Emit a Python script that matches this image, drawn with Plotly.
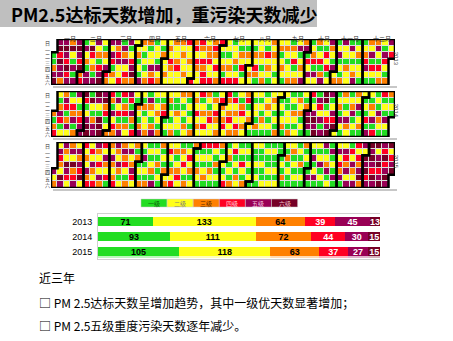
import datetime as dt
import plotly.graph_objects as go

W, H = 453, 341

years = [2013, 2014, 2015]
level_names = ["一级", "二级", "三级", "四级", "五级", "六级"]
level_colors = ["#22DD22", "#FFFF1A", "#FF8000", "#FF0022", "#990055", "#760026"]
legend_text_colors = ["#0b5e0b", "#808080", "#5a2a00", "#ffd0d8", "#f3c6e0", "#f0c0c8"]
bar_text_colors = ["#000000", "#000000", "#000000", "#ffffff", "#ffffff", "#ffffff"]
month_names = ["一月", "二月", "三月", "四月", "五月", "六月",
               "七月", "八月", "九月", "十月", "十一月", "十二月"]
weekday_names = ["日", "一", "二", "三", "四", "五", "六"]

# daily air quality level (1..6), one string per month
daily_2013 = [
    "1135656465" "5356546453" "6215155654" "6",
    "3415231552" "6423155231" "45621325",
    "4352541325" "3452241535" "2435124563" "2",
    "2312153212" "1233122534" "1221523213",
    "2232232432" "2322342232" "3223242232" "2",
    "4342432243" "2434423342" "2434324234",
    "2123142212" "3241223124" "2132412213" "2",
    "2322132431" "2232123214" "2321323221" "2",
    "2312321232" "1223132412" "3251232535",
    "1425212341" "5231241352" "1424125321" "5",
    "2312512135" "2213221521" "2351231221",
    "1234521325" "1421352142" "3215421352" "4",
]
daily_2014 = [
    "3134213541" "2354135212" "4351352134" "5",
    "5641256616" "2135565216" "66563412",
    "3431524315" "2413541341" "3254153142" "1",
    "3213521312" "2315321352" "1232132134",
    "1212312123" "2113221321" "2132312121" "3",
    "2324232412" "3242321342" "2132432324",
    "3234243234" "2314232432" "1342323412" "3",
    "2121221312" "1213211232" "1212321213" "2",
    "1212312112" "2131213212" "1323121213",
    "5651412565" "6154251566" "1245651254" "6",
    "2123152132" "1253212351" "2132512312",
    "1214152132" "5141215321" "4121521312" "1",
]
daily_2015 = [
    "5232543265" "5326542352" "6345253546" "2",
    "4232534242" "5324532425" "34253241",
    "3253234532" "5312353421" "3252354231" "3",
    "1213215121" "3121231512" "1312131213",
    "2324213242" "3123421324" "2131242312" "3",
    "1213214121" "2314121321" "4213121312",
    "2124123121" "3241213212" "1421312121" "2",
    "1211212121" "1211212112" "1212112121" "1",
    "1213121312" "1123121211" "2131213121",
    "1512151251" "2125121512" "3512151215" "1",
    "2524351254" "3525142532" "5424356352",
    "6564565654" "6562564565" "4645656245" "6",
]
daily_all = [daily_2013, daily_2014, daily_2015]

counts_2013 = [71, 133, 64, 39, 45, 13]
counts_2014 = [93, 111, 72, 44, 30, 15]
counts_2015 = [105, 118, 63, 37, 27, 15]
counts_all = [counts_2013, counts_2014, counts_2015]


def px(x):
    return x / W


def py(y):
    return 1 - y / H


cal_top = [39, 91, 142]
cal_bot = [85, 137, 188]
cal_left, cal_right = 51, 395

colorscale = []
for i, c in enumerate(level_colors):
    colorscale += [[i / 6, c], [(i + 1) / 6, c]]

fig = go.Figure()
shapes = []
annotations = []
layout_axes = {}

for yi, (year, months) in enumerate(zip(years, daily_all)):
    start = dt.date(year, 1, 1)
    offset = (start.weekday() + 1) % 7
    levels = [int(ch) for ch in "".join(months)]
    ndays = (dt.date(year + 1, 1, 1) - start).days
    assert len(levels) == ndays, (year, len(levels))
    z = [[None] * 53 for _ in range(7)]
    for k, lv in enumerate(levels):
        pos = k + offset
        z[pos % 7][pos // 7] = lv
    sfx = "" if yi == 0 else str(yi + 1)
    xr, yr = "x" + sfx, "y" + sfx
    fig.add_trace(go.Heatmap(
        z=z, x=list(range(53)), y=list(range(7)),
        zmin=0.5, zmax=6.5, colorscale=colorscale, showscale=False,
        xgap=1, ygap=1, hoverinfo="skip", xaxis=xr, yaxis=yr))
    layout_axes["xaxis" + sfx] = dict(domain=[px(cal_left), px(cal_right)], anchor=yr,
                                      range=[-0.5, 52.5], visible=False, fixedrange=True)
    layout_axes["yaxis" + sfx] = dict(domain=[py(cal_bot[yi]), py(cal_top[yi])], anchor=xr,
                                      range=[6.5, -0.5], visible=False, fixedrange=True)
    # month outlines
    k = 0
    for mi in range(12):
        mlen = len(months[mi])
        p1, p2 = k + offset, k + mlen - 1 + offset
        c1, r1, c2, r2 = p1 // 7, p1 % 7, p2 // 7, p2 % 7
        path = (f"M {c1-0.5},{r1-0.5} L {c1+0.5},{r1-0.5} L {c1+0.5},-0.5 "
                f"L {c2+0.5},-0.5 L {c2+0.5},{r2+0.5} L {c2-0.5},{r2+0.5} "
                f"L {c2-0.5},6.5 L {c1-0.5},6.5 Z")
        shapes.append(dict(type="path", path=path, xref=xr, yref=yr,
                           fillcolor="#dcdcdc", line=dict(width=0), layer="below"))
        shapes.append(dict(type="path", path=path, xref=xr, yref=yr,
                           line=dict(color="black", width=2.5), layer="above"))
        if yi == 0:
            annotations.append(dict(x=(c1 + c2) / 2 + 0.5, xref=xr, y=py(33), yref="paper",
                                    text=month_names[mi], showarrow=False, height=7,
                                    font=dict(size=6, color="#333333", family="Noto Sans CJK SC")))
        k += mlen
    # weekday labels (one stacked text, line pitch matches the row pitch)
    row_pitch = (cal_bot[yi] - cal_top[yi]) / 7
    annotations.append(dict(x=px(44), xref="paper", y=3, yref=yr,
                            text="<br>".join(weekday_names), showarrow=False,
                            yanchor="middle", borderpad=0,
                            font=dict(size=row_pitch / 1.3, color="#333333",
                                      family="Noto Sans CJK SC")))
    # year label (vertical)
    annotations.append(dict(x=px(401), xref="paper", y=2.5, yref=yr, text=str(year),
                            textangle=90, showarrow=False,
                            font=dict(size=6, color="#444444", family="Liberation Sans")))
    # shadow line under calendar
    shapes.append(dict(type="line", xref="paper", yref="paper",
                       x0=px(cal_left + 2), x1=px(cal_right + 2),
                       y0=py(cal_bot[yi] + 2), y1=py(cal_bot[yi] + 2),
                       line=dict(color="#b5b5b5", width=1.5)))

# legend boxes
for i, (name, col) in enumerate(zip(level_names, level_colors)):
    x0 = 141 + i * 26.1
    shapes.append(dict(type="rect", xref="paper", yref="paper",
                       x0=px(x0), x1=px(x0 + 26.1), y0=py(207), y1=py(199),
                       fillcolor=col, line=dict(color="#cccccc", width=0.5)))
    annotations.append(dict(x=px(x0 + 13), xref="paper", y=py(203), yref="paper",
                            text=name, showarrow=False,
                            font=dict(size=6, color=legend_text_colors[i],
                                      family="Noto Sans CJK SC")))

# stacked bars
year_labels = [str(y) for y in years]
for li in range(6):
    vals = [counts_all[yi][li] for yi in range(3)]
    fig.add_trace(go.Bar(
        y=year_labels, x=vals, orientation="h", xaxis="x4", yaxis="y4",
        marker=dict(color=level_colors[li], line=dict(width=0)),
        text=[f"<b>{v}</b>" for v in vals], textposition="inside",
        insidetextanchor="middle", constraintext="none", cliponaxis=False,
        textfont=dict(size=9, color=bar_text_colors[li], family="Liberation Sans"),
        hoverinfo="skip", showlegend=False))

# faint reflection strip under last bar
cum = 0
for li in range(6):
    v = counts_2015[li]
    shapes.append(dict(type="rect", xref="x4", yref="paper", x0=cum, x1=cum + v,
                       y0=py(258), y1=py(255.5), fillcolor=level_colors[li],
                       opacity=0.3, line=dict(width=0)))
    cum += v

layout_axes["xaxis4"] = dict(domain=[px(98), px(380)], anchor="y4", range=[0, 365],
                             showgrid=False, zeroline=False, showticklabels=False,
                             showline=True, mirror=True, linecolor="#d0d0d0", linewidth=1,
                             fixedrange=True)
layout_axes["yaxis4"] = dict(domain=[py(259), py(214)], anchor="x4", autorange="reversed",
                             showgrid=False, zeroline=False, showline=True,
                             linecolor="#d0d0d0", linewidth=1, ticks="",
                             tickfont=dict(size=9, color="black", family="Liberation Sans"),
                             ticklabelstandoff=3, fixedrange=True)

# title banner
shapes.append(dict(type="rect", xref="paper", yref="paper", x0=0, x1=px(317),
                   y0=py(27), y1=1, fillcolor="#BFBFBF", line=dict(width=0), layer="below"))
annotations.append(dict(x=px(9), xref="paper", y=py(14), yref="paper",
                        xanchor="left", yanchor="middle", showarrow=False,
                        text="<b>PM2.5达标天数增加，重污染天数减少</b>",
                        font=dict(size=18, color="black", family="Noto Sans CJK SC")))

# bottom text
for ytxt, txt in [(277, "近三年"),
                  (302, "□ PM 2.5达标天数呈增加趋势，其中一级优天数显著增加；"),
                  (325, "□ PM 2.5五级重度污染天数逐年减少。")]:
    annotations.append(dict(x=px(37), xref="paper", y=py(ytxt), yref="paper",
                            xanchor="left", yanchor="middle", showarrow=False, text=txt,
                            font=dict(size=12, color="black", family="Noto Sans CJK SC")))

fig.update_layout(
    width=W, height=H, margin=dict(l=0, r=0, t=0, b=0),
    paper_bgcolor="white", plot_bgcolor="white",
    barmode="stack", bargap=0.45, showlegend=False,
    shapes=shapes, annotations=annotations, **layout_axes)

fig.write_html("out.html", config={"displayModeBar": False})
